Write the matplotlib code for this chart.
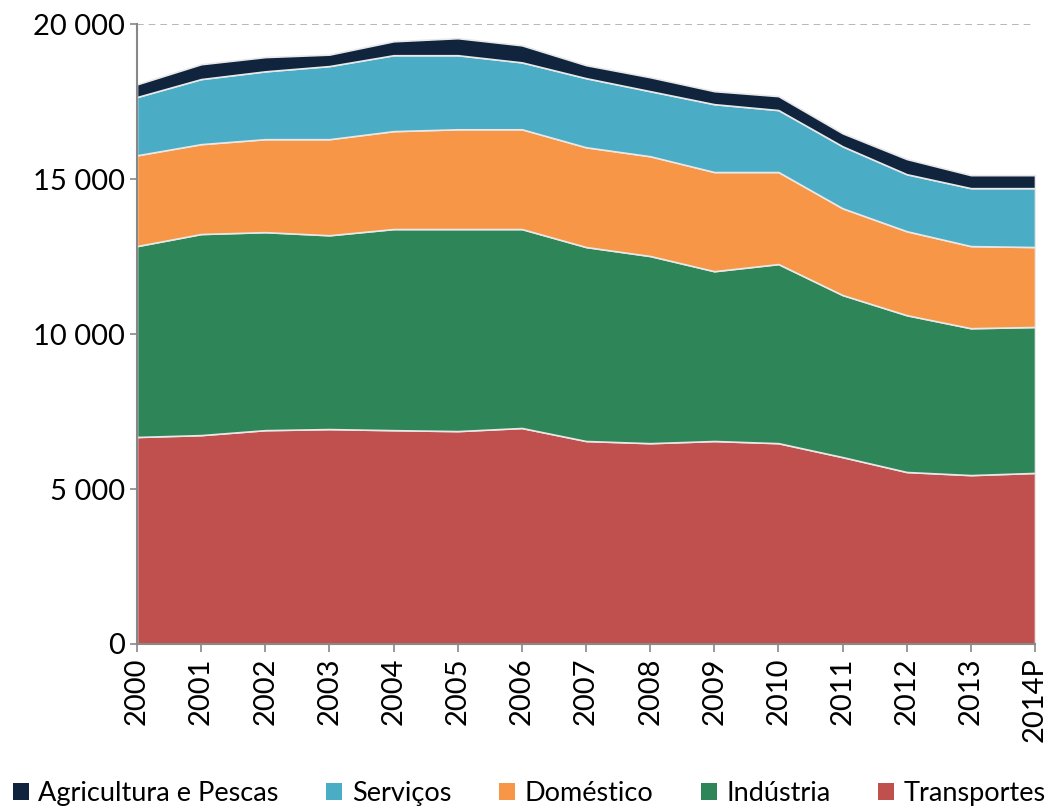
import matplotlib
matplotlib.use("Agg")
import matplotlib.pyplot as plt
from matplotlib.ticker import FuncFormatter
from matplotlib.patches import Patch
import numpy as np

plt.rcParams['font.family'] = ['Lato', 'DejaVu Sans']

years = ["2000", "2001", "2002", "2003", "2004", "2005", "2006", "2007",
         "2008", "2009", "2010", "2011", "2012", "2013", "2014P"]

# cumulative tops
top_transportes = [6680, 6740, 6900, 6935, 6900, 6870, 6970, 6550, 6480, 6550, 6480, 6030, 5550, 5450, 5520]
top_industria   = [12840, 13230, 13290, 13190, 13390, 13390, 13390, 12810, 12520, 12030, 12260, 11260, 10610, 10190, 10230]
top_domestico   = [15770, 16130, 16290, 16290, 16550, 16610, 16610, 16030, 15740, 15230, 15230, 14060, 13320, 12840, 12810]
top_servicos    = [17650, 18230, 18480, 18650, 19000, 19000, 18770, 18260, 17840, 17420, 17230, 16060, 15160, 14710, 14710]
top_agricultura = [18060, 18710, 18940, 19020, 19450, 19550, 19320, 18680, 18290, 17840, 17680, 16480, 15650, 15130, 15130]

transportes = np.array(top_transportes)
industria = np.array(top_industria) - np.array(top_transportes)
domestico = np.array(top_domestico) - np.array(top_industria)
servicos = np.array(top_servicos) - np.array(top_domestico)
agricultura = np.array(top_agricultura) - np.array(top_servicos)

series = ["Transportes", "Indústria", "Doméstico", "Serviços", "Agricultura e Pescas"]
colors = ["#C0504D", "#2E8558", "#F79646", "#4BACC6", "#10243E"]

fig = plt.figure(figsize=(10.48, 8.08), dpi=100)
ax = fig.add_axes([0.1307, 0.203, 0.8569, 0.767])

x = np.arange(len(years))
ax.stackplot(x, transportes, industria, domestico, servicos, agricultura,
             colors=colors, edgecolor="#E8E8E8", linewidth=1.2)

ax.set_xlim(0, len(years) - 1)
ax.set_ylim(0, 20000)
ax.set_yticks([0, 5000, 10000, 15000, 20000])
ax.yaxis.set_major_formatter(FuncFormatter(lambda v, p: f"{int(v):,}".replace(",", " ")))
ax.set_xticks(x)
ax.set_xticklabels(years, rotation=90)
ax.tick_params(axis='both', labelsize=21, colors="black")
ax.tick_params(axis='y', length=5, color="#888888", width=1.2)
ax.tick_params(axis='x', length=6, color="#888888", width=1.2)

ax.axhline(20000, color="#AAAAAA", linestyle=(0, (4, 3)), linewidth=1.2, zorder=0)

for s in ["top", "right"]:
    ax.spines[s].set_visible(False)
for s in ["left", "bottom"]:
    ax.spines[s].set_color("#888888")
    ax.spines[s].set_linewidth(1.5)

handles = [Patch(facecolor=colors[i], label=series[i]) for i in [4, 3, 2, 1, 0]]
fig.legend(handles=handles, loc="center", bbox_to_anchor=(0.505, 0.018), ncol=5,
           frameon=False, fontsize=19.5, handlelength=0.6, handleheight=0.6,
           handletextpad=0.35, columnspacing=1.75, borderaxespad=0, borderpad=0)

fig.savefig("out.png", dpi=100)
